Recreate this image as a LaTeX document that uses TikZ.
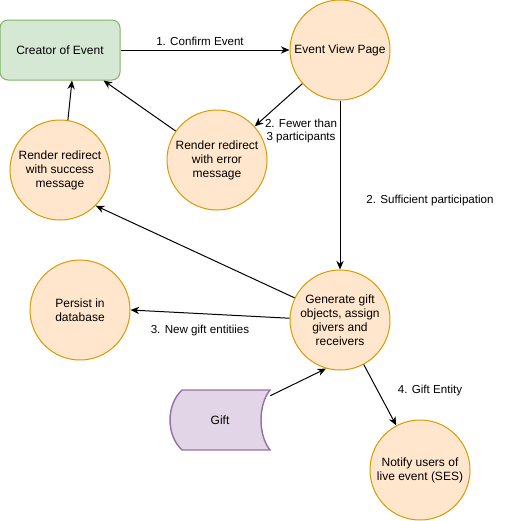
\documentclass[tikz,border=0pt]{standalone}
\usepackage{fontspec}
\setmainfont{Liberation Sans}
\usetikzlibrary{arrows.meta}
\definecolor{orfill}{HTML}{FFE6CC}
\definecolor{ordraw}{HTML}{D79B00}
\definecolor{grfill}{HTML}{D5E8D4}
\definecolor{grdraw}{HTML}{82B366}
\definecolor{pufill}{HTML}{E1D5E7}
\definecolor{pudraw}{HTML}{9673A6}
\begin{document}
\begin{tikzpicture}[x=0.75pt,y=-0.75pt,
  every node/.style={font=\fontsize{9}{10.5}\selectfont},
  proc/.style={circle,draw=ordraw,fill=orfill,line width=0.75pt,minimum size=75pt,inner sep=0pt,align=center},
  actor/.style={rectangle,rounded corners=6pt,draw=grdraw,fill=grfill,line width=0.75pt,minimum width=90pt,minimum height=45pt,align=center},
  lbl/.style={font=\fontsize{8.7}{9.8}\selectfont,align=center,inner sep=1pt},
  conn/.style={line width=0.75pt,-{Stealth[length=6.5pt,width=5.5pt]}},
  giftshape/.style={draw=pudraw,fill=pufill,line width=1.1pt}
]
\useasboundingbox (0,0) rectangle (506,521);
\node[actor] (creator) at (60,50) {Creator of Event};
\node[proc] (view) at (340,50) {Event View Page};
\node[proc] (err) at (217,160) {Render redirect\\with error\\message};
\node[proc] (succ) at (60,170) {Render redirect\\with success\\message};
\node[proc] (gen) at (340,320) {Generate gift\\objects, assign\\givers and\\receivers};
\node[proc] (db) at (80,310) {Persist in\\database};
\node[proc] (notify) at (420,470) {Notify users of\\live event (SES)};
\draw[giftshape] (182,390) -- (270,390) .. controls (258,405) and (258,435) .. (270,450) -- (182,450) .. controls (166,435) and (166,405) .. (182,390) -- cycle;
\node[minimum width=75pt,minimum height=45pt,inner sep=0pt] (gift) at (220,420) {Gift};

\draw[conn] (creator) -- (view);
\draw[conn] (view) -- (err);
\draw[conn] (err) -- (creator);
\draw[conn] (succ.81) -- ([xshift=9pt]creator.south);
\draw[conn] (view) -- (gen);
\draw[conn] (gen.154) -- (succ.-45);
\draw[conn] (gen.178) -- (db.east);
\draw[conn] ([yshift=-4.5pt]gift.north east) -- (gen.254);
\draw[conn] (gen) -- (notify);

\node[lbl] (l1) at (200,41) {1. Confirm Event};
\node[lbl] (l2) at (301,131) {2. Fewer than\\3 participants};
\node[lbl] (l3) at (430,200) {2. Sufficient participation};
\node[lbl] (l4) at (200,330) {3. New gift entitiies};
\node[lbl] (l5) at (430,390) {4. Gift Entity};
\end{tikzpicture}
\end{document}
